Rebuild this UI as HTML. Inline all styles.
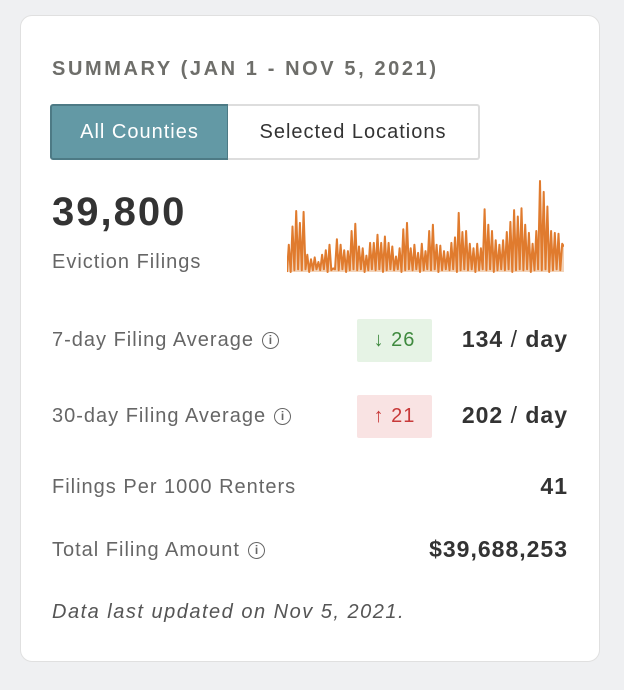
<!DOCTYPE html>
<html><head><meta charset="utf-8"><style>
*{box-sizing:border-box;margin:0;padding:0}
body{width:624px;height:690px;background:#eff0f2;font-family:"Liberation Sans",sans-serif;position:relative;overflow:hidden}
.card{position:absolute;left:20px;top:15px;width:580px;height:647px;background:#fff;border:1px solid #e0e0e0;border-radius:12px}
.abs{position:absolute;white-space:nowrap}
.title{left:52px;top:58px;font-size:20px;font-weight:bold;letter-spacing:2.6px;color:#6e6e6a}
.btn{top:104px;height:56px;font-size:20px;letter-spacing:1px;display:flex;align-items:center;justify-content:center}
.b1{left:50px;width:179px;background:#6399a5;color:#fff;border:2px solid #4d7a85;border-radius:3px 0 0 3px}
.b2{left:228px;width:252px;background:#fff;color:#333;border:2px solid #ddd;border-left:none;border-radius:0 3px 3px 0}
.big{left:52px;top:190px;font-size:40px;font-weight:bold;color:#333;letter-spacing:2px}
.sub{left:52px;top:251px;font-size:20px;color:#666;letter-spacing:1px}
.lbl{left:52px;font-size:20px;color:#666;letter-spacing:1px}
.val{right:56px;font-size:23px;font-weight:bold;color:#333;letter-spacing:1px}
.val span{font-weight:normal}
.info{display:inline-block;width:17px;height:17px;border:1.6px solid #666;border-radius:50%;font-size:12px;text-align:center;line-height:14px;font-weight:bold;vertical-align:2px;margin-left:8px;letter-spacing:0}
.badge{left:357px;width:75px;height:43px;font-size:20px;letter-spacing:1px;display:flex;align-items:center;justify-content:center;border-radius:2px}
.note{left:52px;top:601px;font-size:20px;font-style:italic;color:#555;letter-spacing:1.5px}
</style></head><body>
<div class="card"></div>
<div class="abs title">SUMMARY (JAN 1 - NOV 5, 2021)</div>
<div class="abs btn b1">All Counties</div>
<div class="abs btn b2">Selected Locations</div>
<div class="abs big">39,800</div>
<div class="abs sub">Eviction Filings</div>
<svg class="abs" style="left:287px;top:178px" width="277" height="96">
<path id="area" fill="#f3d3b8"></path>
<path id="line" fill="none" stroke="#e07b2e" stroke-width="2" stroke-linejoin="round"></path>
</svg>
<div class="abs lbl" style="top:329px">7-day Filing Average<span class="info">i</span></div>
<div class="abs badge" style="top:319px;background:#e6f3e5;color:#3f8a3f">↓ 26</div>
<div class="abs val" style="top:326px">134 <span>/</span> day</div>
<div class="abs lbl" style="top:405px">30-day Filing Average<span class="info">i</span></div>
<div class="abs badge" style="top:395px;background:#f9e3e3;color:#c83a3a">↑ 21</div>
<div class="abs val" style="top:402px">202 <span>/</span> day</div>
<div class="abs lbl" style="top:476px">Filings Per 1000 Renters</div>
<div class="abs val" style="top:473px">41</div>
<div class="abs lbl" style="top:539px">Total Filing Amount<span class="info">i</span></div>
<div class="abs val" style="top:536px">$39,688,253</div>
<div class="abs note">Data last updated on Nov 5, 2021.</div>
<script>
const peaks=[30,50,67,54,66,19,14,16,11,19,24,30,4,36,30,24,23,45,53,28,26,18,32,32,41,32,39,32,28,17,26,47,54,26,30,21,31,23,45,52,30,29,23,22,32,38,65,44,45,31,26,31,26,69,52,45,35,30,35,44,55,68,61,70,52,43,31,45,100,88,72,45,43,42,31];
const troughs=[0,2,3,2,3];
const vals=[0];
peaks.forEach((p,i)=>{vals.push(p);vals.push(troughs[i%troughs.length]);});
vals[vals.length-1]=28;
const W=277,H=94;
const xs=i=>i/(vals.length-1)*W;
const ys=v=>H-v/100*(H-3);
let d=vals.map((v,i)=>(i?'L':'M')+xs(i).toFixed(1)+' '+ys(v).toFixed(1)).join(' ');
document.getElementById('line').setAttribute('d',d);
document.getElementById('area').setAttribute('d',d+` L${W} ${H} L0 ${H} Z`);
</script>
</body></html>
